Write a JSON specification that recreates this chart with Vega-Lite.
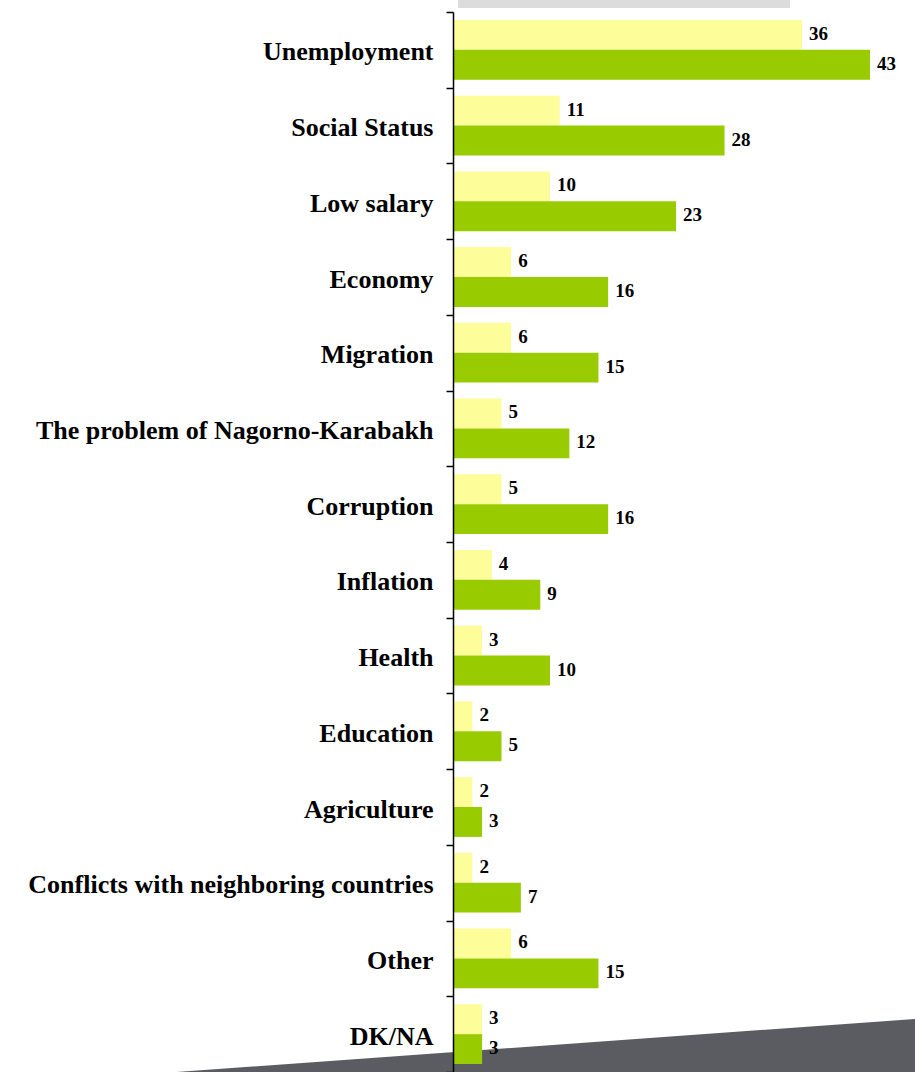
{
  "$schema": "https://vega.github.io/schema/vega-lite/v6.json",
  "autosize": "none",
  "width": 462,
  "height": 1060,
  "padding": {"left": 453, "top": 12, "right": 0, "bottom": 0},
  "background": "white",
  "config": {"view": {"stroke": null}},
  "datasets": {
    "problems": [
      {"problem": "Unemployment", "series": "Series 1", "value": 36},
      {"problem": "Unemployment", "series": "Series 2", "value": 43},
      {"problem": "Social Status", "series": "Series 1", "value": 11},
      {"problem": "Social Status", "series": "Series 2", "value": 28},
      {"problem": "Low salary", "series": "Series 1", "value": 10},
      {"problem": "Low salary", "series": "Series 2", "value": 23},
      {"problem": "Economy", "series": "Series 1", "value": 6},
      {"problem": "Economy", "series": "Series 2", "value": 16},
      {"problem": "Migration", "series": "Series 1", "value": 6},
      {"problem": "Migration", "series": "Series 2", "value": 15},
      {"problem": "The problem of Nagorno-Karabakh", "series": "Series 1", "value": 5},
      {"problem": "The problem of Nagorno-Karabakh", "series": "Series 2", "value": 12},
      {"problem": "Corruption", "series": "Series 1", "value": 5},
      {"problem": "Corruption", "series": "Series 2", "value": 16},
      {"problem": "Inflation", "series": "Series 1", "value": 4},
      {"problem": "Inflation", "series": "Series 2", "value": 9},
      {"problem": "Health", "series": "Series 1", "value": 3},
      {"problem": "Health", "series": "Series 2", "value": 10},
      {"problem": "Education", "series": "Series 1", "value": 2},
      {"problem": "Education", "series": "Series 2", "value": 5},
      {"problem": "Agriculture", "series": "Series 1", "value": 2},
      {"problem": "Agriculture", "series": "Series 2", "value": 3},
      {"problem": "Conflicts with neighboring countries", "series": "Series 1", "value": 2},
      {"problem": "Conflicts with neighboring countries", "series": "Series 2", "value": 7},
      {"problem": "Other", "series": "Series 1", "value": 6},
      {"problem": "Other", "series": "Series 2", "value": 15},
      {"problem": "DK/NA", "series": "Series 1", "value": 3},
      {"problem": "DK/NA", "series": "Series 2", "value": 3}
    ],
    "wedge": [
      {"x": -28.5, "y": 0},
      {"x": 47.64, "y": 53}
    ],
    "topband": [
      {"x": 0.52, "x2": 34.75, "y": 1064, "y2": 1072}
    ]
  },
  "layer": [
    {
      "data": {"name": "wedge"},
      "mark": {"type": "area", "color": "#5b5c61", "clip": false},
      "encoding": {
        "x": {"field": "x", "type": "quantitative", "scale": {"domain": [0, 47.64], "nice": false, "zero": false}, "axis": null},
        "y": {"field": "y", "type": "quantitative", "scale": {"domain": [0, 1060], "nice": false}, "axis": null}
      }
    },
    {
      "data": {"name": "topband"},
      "mark": {"type": "rect", "color": "#dcdcdc", "clip": false},
      "encoding": {
        "x": {"field": "x", "type": "quantitative", "axis": null},
        "x2": {"field": "x2"},
        "y": {"field": "y", "type": "quantitative", "scale": {"domain": [0, 1060], "nice": false}, "axis": null},
        "y2": {"field": "y2"}
      }
    },
    {
      "data": {"name": "problems"},
      "mark": {"type": "bar"},
      "encoding": {
        "y": {
          "field": "problem",
          "type": "nominal",
          "sort": null,
          "scale": {"paddingInner": 0, "paddingOuter": 0},
          "axis": {
            "title": null,
            "tickBand": "extent",
            "domainColor": "#000000",
            "domainWidth": 1.5,
            "tickColor": "#000000",
            "tickWidth": 1.5,
            "tickSize": 7,
            "labelFont": "Liberation Serif",
            "labelFontWeight": "bold",
            "labelFontSize": 26,
            "labelColor": "#000000",
            "labelPadding": 13,
            "labelOffset": 2,
            "labelLimit": 0,
            "zindex": 1
          }
        },
        "yOffset": {
          "field": "series",
          "type": "nominal",
          "scale": {"domain": ["Series 1", "Series 2"], "paddingInner": 0, "paddingOuter": 0.267}
        },
        "x": {"field": "value", "type": "quantitative", "axis": null},
        "color": {
          "field": "series",
          "type": "nominal",
          "scale": {"domain": ["Series 1", "Series 2"], "range": ["#fdfd99", "#99cc00"]},
          "legend": null
        }
      }
    },
    {
      "data": {"name": "problems"},
      "mark": {
        "type": "text",
        "align": "left",
        "baseline": "middle",
        "dx": 7,
        "dy": -1,
        "font": "Liberation Serif",
        "fontWeight": "bold",
        "fontSize": 19,
        "color": "#000000"
      },
      "encoding": {
        "y": {
          "field": "problem",
          "type": "nominal",
          "sort": null,
          "scale": {"paddingInner": 0, "paddingOuter": 0},
          "axis": null
        },
        "yOffset": {
          "field": "series",
          "type": "nominal",
          "scale": {"domain": ["Series 1", "Series 2"], "paddingInner": 0, "paddingOuter": 0.267}
        },
        "x": {"field": "value", "type": "quantitative", "axis": null},
        "text": {"field": "value", "type": "quantitative"}
      }
    }
  ],
  "resolve": {"scale": {"y": "independent"}}
}
